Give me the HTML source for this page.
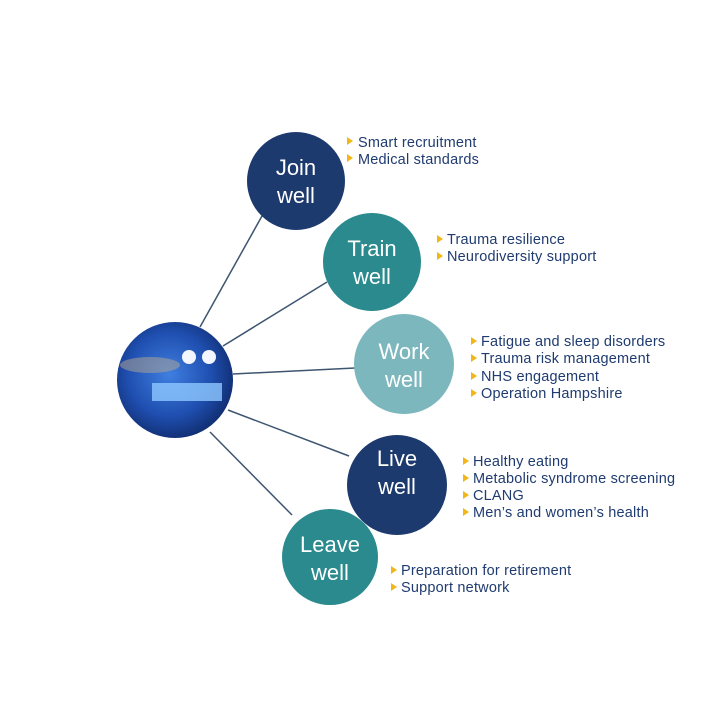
<!DOCTYPE html>
<html><head><style>
body{margin:0;background:#fff;}
svg text{font-family:"Liberation Sans",sans-serif;}
.c{fill:#fff;font-size:22px;text-anchor:middle;}
.t{fill:#1f3b70;font-size:14.5px;letter-spacing:0.2px;}
.a{fill:#f2b619;}
</style></head><body>
<svg width="720" height="720" viewBox="0 0 720 720" xmlns="http://www.w3.org/2000/svg">
<defs>
<radialGradient id="g" cx="0.45" cy="0.45" r="0.6">
<stop offset="0" stop-color="#3f7fe0"/>
<stop offset="0.6" stop-color="#1f4fb0"/>
<stop offset="1" stop-color="#0f2a6a"/>
</radialGradient>
</defs>
<g stroke="#3d5570" stroke-width="1.5">
<line x1="200" y1="327" x2="262" y2="216"/>
<line x1="223" y1="346" x2="327" y2="282"/>
<line x1="233" y1="374" x2="355" y2="368"/>
<line x1="228" y1="410" x2="349" y2="456"/>
<line x1="210" y1="432" x2="292" y2="515"/>
</g>
<circle cx="175" cy="380" r="58" fill="url(#g)"/>
<ellipse cx="150" cy="365" rx="30" ry="8" fill="#b8a890" opacity="0.5"/>
<circle cx="189" cy="357" r="7" fill="#f4f6ff"/>
<circle cx="209" cy="357" r="7" fill="#f4f6ff"/>
<rect x="152" y="383" width="70" height="18" fill="#8ec8ff" opacity="0.8"/>
<circle cx="296" cy="181" r="49" fill="#1d3a6e"/>
<circle cx="372" cy="262" r="49" fill="#2a8a8e"/>
<circle cx="404" cy="364" r="50" fill="#7db7be"/>
<circle cx="397" cy="485" r="50" fill="#1d3a6e"/>
<circle cx="330" cy="557" r="48" fill="#2a8a8e"/>
<text class="c" x="296" y="175">Join</text><text class="c" x="296" y="203">well</text>
<text class="c" x="372" y="256">Train</text><text class="c" x="372" y="284">well</text>
<text class="c" x="404" y="359">Work</text><text class="c" x="404" y="387">well</text>
<text class="c" x="397" y="466">Live</text><text class="c" x="397" y="494">well</text>
<text class="c" x="330" y="552">Leave</text><text class="c" x="330" y="580">well</text>
<g>
<path class="a" d="M347 137l6 4-6 4z"/><text class="t" x="358" y="147">Smart recruitment</text>
<path class="a" d="M347 154l6 4-6 4z"/><text class="t" x="358" y="164">Medical standards</text>
<path class="a" d="M437 235l6 4-6 4z"/><text class="t" x="447" y="244">Trauma resilience</text>
<path class="a" d="M437 252l6 4-6 4z"/><text class="t" x="447" y="261">Neurodiversity support</text>
<path class="a" d="M471 337l6 4-6 4z"/><text class="t" x="481" y="346">Fatigue and sleep disorders</text>
<path class="a" d="M471 354l6 4-6 4z"/><text class="t" x="481" y="363">Trauma risk management</text>
<path class="a" d="M471 372l6 4-6 4z"/><text class="t" x="481" y="381">NHS engagement</text>
<path class="a" d="M471 389l6 4-6 4z"/><text class="t" x="481" y="398">Operation Hampshire</text>
<path class="a" d="M463 457l6 4-6 4z"/><text class="t" x="473" y="466">Healthy eating</text>
<path class="a" d="M463 474l6 4-6 4z"/><text class="t" x="473" y="483">Metabolic syndrome screening</text>
<path class="a" d="M463 491l6 4-6 4z"/><text class="t" x="473" y="500">CLANG</text>
<path class="a" d="M463 508l6 4-6 4z"/><text class="t" x="473" y="517">Men’s and women’s health</text>
<path class="a" d="M391 566l6 4-6 4z"/><text class="t" x="401" y="575">Preparation for retirement</text>
<path class="a" d="M391 583l6 4-6 4z"/><text class="t" x="401" y="592">Support network</text>
</g>
</svg>
</body></html>
